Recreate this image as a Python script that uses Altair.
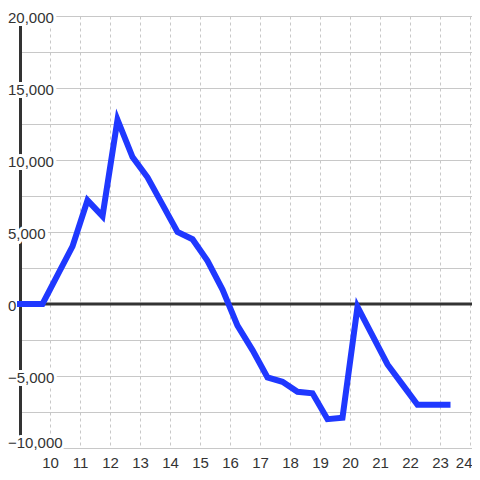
import altair as alt
import pandas as pd

# ---- data ----
hours = [9.0, 9.75, 10.25, 10.75, 11.25, 11.75, 12.25, 12.75, 13.25, 13.75,
         14.25, 14.75, 15.25, 15.75, 16.25, 16.75, 17.25, 17.75, 18.25, 18.75,
         19.25, 19.75, 20.25, 20.75, 21.25, 21.75, 22.25, 22.75, 23.25]
values = [0, 0, 2000, 4000, 7200, 6100, 12800, 10200, 8800, 6900,
          5000, 4500, 3000, 1000, -1500, -3200, -5100, -5400, -6100, -6200,
          -8000, -7900, -200, -2200, -4200, -5600, -7000, -7000, -7000]
x_ticks = list(range(10, 25))
y_grid = list(range(-10000, 20001, 2500))
y_labels = [20000, 15000, 10000, 5000, 0, -5000]
y_bottom_label = [-10000]

W, H = 452, 432
df = pd.DataFrame({"hour": hours, "value": values})
lab_mid = pd.DataFrame({"value": y_labels})
lab_bot = pd.DataFrame({"value": y_bottom_label})
zero = pd.DataFrame({"value": [0]})

FONT = "Liberation Sans"
x_scale = alt.Scale(domain=[9, 9 + W / 30], nice=False, zero=False)
y_scale = alt.Scale(domain=[-10000, 20000], nice=False, zero=False)

x_enc = alt.X("hour:Q", scale=x_scale,
              axis=alt.Axis(values=x_ticks, grid=True, gridDash=[3, 3],
                            gridColor="#c8c8c8", gridWidth=1, domain=False,
                            ticks=False, labelFont=FONT, labelFontSize=15,
                            labelColor="#333333", labelPadding=7, title=None,
                            labelFlush=False, labelOverlap=False, format="d",
                            labelAlign={"condition": {"test": "datum.value >= 24",
                                                      "value": "right"},
                                        "value": "center"},
                            labelOffset={"condition": {"test": "datum.value >= 24",
                                                       "value": 2},
                                         "value": 0}))
y_axis = alt.Axis(values=y_grid, grid=True, gridColor="#c8c8c8",
                  gridWidth=1, labels=False, ticks=False,
                  domain=True, domainColor="#333333", domainWidth=3,
                  title=None)
y_enc = alt.Y("value:Q", scale=y_scale, axis=y_axis)

zero_rule = alt.Chart(zero).mark_rule(color="#333333", strokeWidth=3).encode(
    y=y_enc)


def label_layers(data, baseline, dy):
    enc = dict(y=y_enc,
               x=alt.value(-12),
               text=alt.Text("value:Q", format=","))
    halo = alt.Chart(data).mark_text(
        align="left", baseline=baseline, dy=dy, font=FONT, fontSize=15,
        fill="white", stroke="white", strokeWidth=6, strokeJoin="round"
    ).encode(**enc)
    txt = alt.Chart(data).mark_text(
        align="left", baseline=baseline, dy=dy, font=FONT, fontSize=15,
        color="#333333"
    ).encode(**enc)
    return [halo, txt]


line = alt.Chart(df).mark_line(
    color="#1f38ff", strokeWidth=6, strokeCap="square", clip=False
).encode(x=x_enc, y=y_enc)

chart = alt.layer(
    line.mark_line(opacity=0),
    zero_rule,
    *label_layers(lab_mid, "middle", 2),
    *label_layers(lab_bot, "alphabetic", 0),
    line,
).properties(
    width=W, height=H,
    autosize=alt.AutoSizeParams(type="none"),
    padding={"left": 12, "top": 8, "right": 0, "bottom": 24},
    background="white",
).configure_view(strokeWidth=0)

chart.save("out.html", embed_options={"renderer": "svg", "actions": False})
